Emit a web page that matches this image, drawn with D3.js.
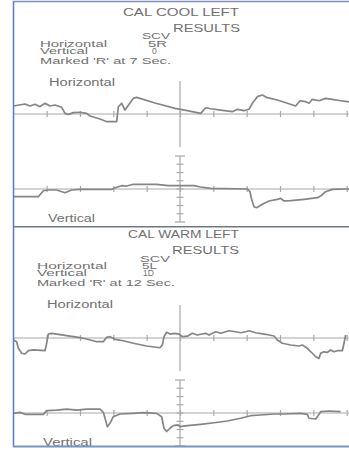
<!DOCTYPE html>
<html>
<head>
<meta charset="utf-8">
<script src="https://cdn.jsdelivr.net/npm/d3@7"></script>
<style>
  html, body { margin: 0; padding: 0; background: #fff; }
  svg { display: block; }
  text { font-family: "Liberation Sans", Arial, sans-serif; fill: #707070; }
</style>
</head>
<body>
<div id="chart"></div>
<script>
// Time axis ticks (seconds grid) and trace units
const timeTicks = [1, 2, 3, 4, 5, 6, 7, 8, 9, 10];
const ampTicks = [-4, -3, -2, -1, 0, 1, 2, 3, 4];

// CAL COOL LEFT - horizontal eye movement trace [t, value]
const coolHorizontal = [
  [0, 0.97], [0.35, 1.21], [0.5, 0.97], [0.65, 1.18], [0.8, 0.89], [0.95, 1.30],
  [1.1, 0.97], [1.25, 1.09], [1.45, 0.81], [1.55, 0.08], [1.65, -0.04], [1.8, 0.16],
  [2.0, 0.21], [2.2, 0.08], [2.3, -0.24], [2.6, -0.61], [2.81, -0.93], [3.1, -0.93],
  [3.15, 0.88], [3.25, 1.30], [3.35, 0.48], [3.6, 1.90], [3.7, 2.02], [4.25, 1.33],
  [4.85, 0.69], [5.22, 0.40], [5.62, 0.08], [5.77, 0.76], [5.92, 0.64], [6.22, 0.48],
  [6.57, 0.28], [6.72, 0.57], [6.92, 0.40], [7.07, 0.57], [7.17, 1.30], [7.32, 2.10],
  [7.47, 2.30], [7.62, 1.98], [7.92, 1.70], [8.22, 1.30], [8.47, 0.97], [8.6, 1.61],
  [8.77, 1.49], [8.87, 1.30], [8.97, 1.78], [9.17, 1.61], [9.37, 1.90], [9.57, 1.78],
  [9.82, 1.61], [10.02, 1.49], [10.07, 1.45]
];

// CAL COOL LEFT - vertical eye movement trace
const coolVertical = [
  [0, -0.93], [0.75, -0.93], [0.85, -0.45], [0.9, -0.21], [1.05, -0.12], [1.3, -0.12],
  [1.55, -0.45], [1.75, -0.12], [2.0, -0.04], [2.95, -0.04], [3.1, 0.21], [3.25, 0.40],
  [3.4, 0.36], [3.6, 0.57], [4.3, 0.57], [4.5, 0.48], [4.65, 0.40], [5.42, 0.40],
  [5.62, 0.24], [5.92, 0.08], [7.02, 0], [7.1, -0.33], [7.14, -1.13], [7.22, -2.15],
  [7.3, -2.27], [7.47, -1.85], [7.67, -1.45], [7.92, -1.25], [8.02, -1.13], [8.12, -1.45],
  [8.32, -1.42], [8.72, -1.25], [9.12, -1.05], [9.22, -0.85], [9.37, -0.33], [9.57, -0.04],
  [9.97, 0], [10.07, 0]
];

// CAL WARM LEFT - horizontal eye movement trace
const warmHorizontal = [
  [0, -0.24], [0.1, -0.45], [0.15, -1.25], [0.25, -1.85], [0.35, -1.94], [0.45, -1.54],
  [0.6, -1.45], [0.95, -1.54], [1.0, -0.64], [1.05, 0.48], [1.15, 0.57], [1.6, 0.28],
  [1.95, 0.08], [2.2, -0.12], [2.5, -0.45], [2.7, -0.45], [2.8, 0.08], [2.9, 0.16],
  [3.05, -0.16], [3.3, -0.33], [3.6, -0.64], [4.0, -0.97], [4.4, -1.18], [4.47, -0.85],
  [4.52, 0.16], [4.6, 0.69], [4.7, 0.48], [4.85, 0.57], [4.97, 0.48], [5.07, 0.16],
  [5.22, 0.22], [5.37, 0.57], [5.52, 0.36], [5.66, 0.48], [5.77, 0.57], [5.87, 0.36],
  [6.07, 0.76], [6.22, 0.57], [6.47, 0.88], [6.67, 0.76], [6.82, 0.64], [6.97, 0.76],
  [7.07, 0.88], [7.27, 0.64], [7.57, 0.45], [7.82, 0.24], [7.92, -0.24], [8.07, -0.64],
  [8.32, -0.85], [8.57, -0.97], [8.67, -0.85], [8.82, -1.25], [8.97, -1.85], [9.07, -2.27],
  [9.17, -2.47], [9.22, -1.85], [9.32, -1.66], [9.41, -1.76], [9.52, -1.45], [9.62, -1.66],
  [9.72, -1.54], [9.87, -1.54], [9.92, -0.64], [9.97, 0.36]
];

// CAL WARM LEFT - vertical eye movement trace
const warmVertical = [
  [0, -0.04], [0.2, 0.08], [0.35, -0.16], [0.9, -0.16], [1.0, 0.28], [1.3, 0.36],
  [1.6, 0.48], [1.9, 0.36], [2.2, 0.48], [2.6, 0.48], [2.7, 0.08], [2.78, -1.05],
  [2.82, -1.66], [2.9, -1.25], [3.0, -0.45], [3.2, -0.12], [3.6, -0.04], [3.9, 0.04],
  [4.3, -0.04], [4.45, -0.45], [4.52, -1.85], [4.6, -2.24], [4.7, -1.85], [4.8, -1.52],
  [4.94, -1.45], [5.0, -1.66], [5.22, -1.54], [5.62, -1.37], [6.02, -1.18], [6.42, -0.97],
  [6.82, -0.64], [7.12, -0.33], [7.42, -0.24], [7.82, -0.12], [8.12, -0.12], [8.62, -0.04],
  [8.82, -0.16], [8.87, -0.64], [9.07, -0.73], [9.12, -0.45], [9.22, 0.16], [9.47, 0.24],
  [9.82, 0.16]
];

// Text of each test panel
const panelTitles = ["CAL COOL LEFT", "CAL WARM LEFT"];
const horizontalResults = ["5R", "5L"];
const verticalResults = ["0", "1D"];
const markedTimes = ["Marked 'R' at 7 Sec.", "Marked 'R' at 12 Sec."];

const W = 349, H = 450;
const svg = d3.select("#chart").append("svg")
  .attr("width", W).attr("height", H);

const x = d3.scaleLinear().domain([0, 11]).range([13.33, 380]);

const axisColor = "#a9a9a9";
const traceColor = "#858585";

svg.append("clipPath").attr("id", "frameClip")
  .append("rect").attr("x", 13).attr("y", 2).attr("width", W - 13).attr("height", 444);

function stretchedText(g, str, x0, yBase, size, len) {
  g.append("text")
    .attr("x", x0).attr("y", yBase)
    .attr("font-size", size)
    .attr("textLength", len)
    .attr("lengthAdjust", "spacingAndGlyphs")
    .text(str);
}

function drawPlot(g, axisY, data) {
  const y = d3.scaleLinear().domain([-4, 4]).range([axisY + 33, axisY - 33]);

  // time axis line
  g.append("line")
    .attr("x1", 13).attr("x2", W)
    .attr("y1", y(0)).attr("y2", y(0))
    .attr("stroke", axisColor).attr("stroke-width", 1);

  // ticks straddling the time axis
  [d3.axisBottom(x), d3.axisTop(x)].forEach(ax => {
    const a = g.append("g")
      .attr("transform", `translate(0,${y(0)})`)
      .call(ax.tickValues(timeTicks).tickSize(3).tickSizeOuter(0).tickFormat(""));
    a.select(".domain").remove();
    a.selectAll("line").attr("stroke", axisColor).attr("stroke-width", 1.2);
  });

  // amplitude axis at the centre of the record
  const cx = x(5);
  g.append("line")
    .attr("x1", cx).attr("x2", cx)
    .attr("y1", y(4)).attr("y2", y(-4))
    .attr("stroke", axisColor).attr("stroke-width", 1.2);
  g.selectAll(".amp-tick").data(ampTicks).join("line")
    .attr("class", "amp-tick")
    .attr("x1", d => cx - (Math.abs(d) === 4 ? 5 : 3.5))
    .attr("x2", d => cx + (Math.abs(d) === 4 ? 5 : 3.5))
    .attr("y1", d => y(d)).attr("y2", d => y(d))
    .attr("stroke", axisColor).attr("stroke-width", 1.2);

  // trace
  const line = d3.line().x(d => x(d[0])).y(d => y(d[1]));
  g.append("path")
    .datum(data)
    .attr("d", line)
    .attr("fill", "none")
    .attr("stroke", traceColor)
    .attr("stroke-width", 1.7)
    .attr("stroke-linejoin", "round");
}

const root = svg.append("g").attr("clip-path", "url(#frameClip)");

// panel layout: vertical offsets of each test block
const panels = [
  { top: 0, hAxis: 114, vAxis: 189, h: coolHorizontal, v: coolVertical },
  { top: 222.3, hAxis: 338, vAxis: 413, h: warmHorizontal, v: warmVertical }
];

panels.forEach((p, i) => {
  const g = root.append("g");
  const o = p.top;
  stretchedText(g, panelTitles[i], i === 0 ? 123 : 128, 16 + o, 10.5, i === 0 ? 116 : 111);
  stretchedText(g, "RESULTS", 173 - i, 31.5 + o, 10.5, 67);
  stretchedText(g, "SCV", 142 - 2 * i, 39.3 + o, 9, 28 + 2 * i);
  stretchedText(g, "Horizontal", 40 - 3 * i, 46.6 + o, 8.5, 67 + 3 * i);
  stretchedText(g, horizontalResults[i], 148 - 6 * i, 46.6 + o, 8.5, 19 - 4 * i);
  stretchedText(g, "Vertical", 40 - 3 * i, 54 + o, 8.5, 48 + 2 * i);
  g.append("text").attr("x", i === 0 ? 152 : 143).attr("y", 54 + o)
    .attr("font-size", 8.5).text(verticalResults[i]);
  stretchedText(g, markedTimes[i], 40 - 3 * i, 64 + o, 8.5, 131 + 7 * i);
  stretchedText(g, "Horizontal", 49 - 2 * i, 86 + o, 10, 66);

  drawPlot(g, p.hAxis, p.h);
  drawPlot(g, p.vAxis, p.v);

  stretchedText(g, "Vertical", 48 - 5 * i, 222 + o + 1.2 * i, 10, 47 + 2 * i);
});

// frame and divider
svg.append("line").attr("x1", 13.5).attr("x2", 13.5).attr("y1", 1).attr("y2", 447)
  .attr("stroke", "#5a7dbd").attr("stroke-width", 1.5);
svg.append("line").attr("x1", 13).attr("x2", W).attr("y1", 1.5).attr("y2", 1.5)
  .attr("stroke", "#7d8fb0").attr("stroke-width", 1.5);
svg.append("line").attr("x1", 13).attr("x2", W).attr("y1", 226.8).attr("y2", 226.8)
  .attr("stroke", "#6f7785").attr("stroke-width", 1.6);
svg.append("line").attr("x1", 13).attr("x2", W).attr("y1", 446.5).attr("y2", 446.5)
  .attr("stroke", "#6f96d2").attr("stroke-width", 1.8);
</script>
</body>
</html>
